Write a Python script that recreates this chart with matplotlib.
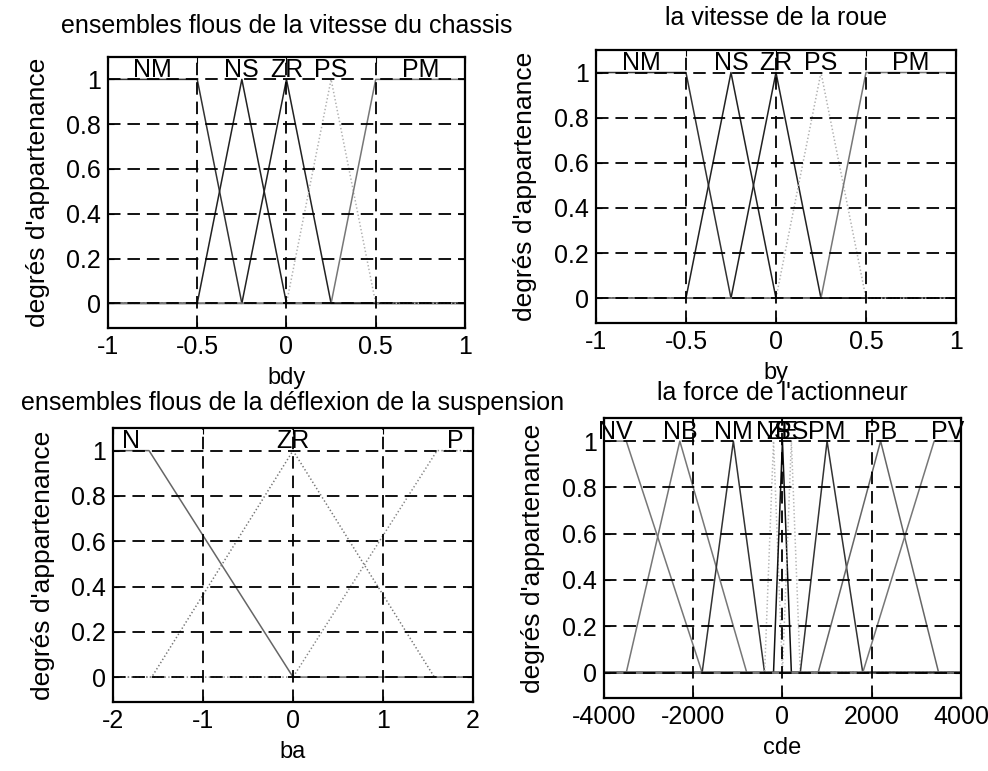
import numpy as np
import matplotlib
matplotlib.use("Agg")
import matplotlib.pyplot as plt

plt.rcParams['font.family'] = ['Liberation Sans', 'DejaVu Sans']
plt.rcParams['lines.scale_dashes'] = False

# fonctions d'appartenance : triangles [a, b, c] et trapezes [a, b, c, d]
bdy_names = ['NM', 'NS', 'ZR', 'PS', 'PM']
bdy_params = [[-1, -1, -0.5, -0.25], [-0.5, -0.25, 0], [-0.25, 0, 0.25],
              [0, 0.25, 0.5], [0.25, 0.5, 1, 1]]
bdy_range = [-1, 1]
bdy_ticks = [-1, -0.5, 0, 0.5, 1]
bdy_ticklabels = ['-1', '-0.5', '0', '0.5', '1']

by_names = ['NM', 'NS', 'ZR', 'PS', 'PM']
by_params = [[-1, -1, -0.5, -0.25], [-0.5, -0.25, 0], [-0.25, 0, 0.25],
             [0, 0.25, 0.5], [0.25, 0.5, 1, 1]]
by_range = [-1, 1]
by_ticks = [-1, -0.5, 0, 0.5, 1]
by_ticklabels = ['-1', '-0.5', '0', '0.5', '1']

ba_names = ['N', 'ZR', 'P']
ba_params = [[-2, -2, -1.6, 0], [-1.57, 0, 1.57], [0, 1.6, 2, 2]]
ba_range = [-2, 2]
ba_ticks = [-2, -1, 0, 1, 2]
ba_ticklabels = ['-2', '-1', '0', '1', '2']

cde_names = ['NV', 'NB', 'NM', 'NS', 'ZE', 'PS', 'PM', 'PB', 'PV']
cde_params = [[-4000, -4000, -3500, -1800], [-3500, -2300, -800],
              [-1800, -1100, -400], [-400, -200, 0], [-200, 0, 200],
              [0, 200, 400], [400, 1000, 1800], [800, 2200, 3500],
              [1800, 3400, 4000, 4000]]
cde_range = [-4000, 4000]
cde_ticks = [-4000, -2000, 0, 2000, 4000]
cde_ticklabels = ['-4000', '-2000', '0', '2000', '4000']

deg_ticks = [0, 0.2, 0.4, 0.6, 0.8, 1]
deg_ticklabels = ['0', '0.2', '0.4', '0.6', '0.8', '1']


def corners(p, lo, hi):
    # sommets de la ligne brisee d'une fonction trimf / trapmf
    if len(p) == 3:
        p = [p[0], p[1], p[1], p[2]]
    a, b, c, d = p
    xs = [lo, a, b, c, d, hi]
    ys = [0, 0, 1, 1, 0, 0]
    if a == b == lo:
        xs, ys = xs[2:], ys[2:]
    if c == d == hi:
        xs, ys = xs[:-2], ys[:-2]
    return xs, ys


def plot_mf(ax, names, params, rng, ticks, ticklabels, colors, styles,
            title, xlabel, tpad):
    for name, p, col, ls in zip(names, params, colors, styles):
        xs, ys = corners(p, rng[0], rng[1])
        ax.plot(xs, ys, color=col, lw=1.1, ls=ls)
        if len(p) == 3:
            xc = p[1]
        else:
            xc = (p[1] + p[2]) / 2
        ax.text(xc, 1.01, name, ha='center', va='baseline', fontsize=18)
    ax.set_xlim(rng)
    ax.set_ylim(-0.11, 1.1)
    ax.set_xticks(ticks)
    ax.set_xticklabels(ticklabels)
    ax.set_yticks(deg_ticks)
    ax.set_yticklabels(deg_ticklabels)
    ax.tick_params(labelsize=18, direction='in', length=4, top=True,
                   right=True, pad=5)
    ax.grid(True, color='black', lw=1.3, ls=(0, (9, 5)))
    ax.set_axisbelow(False)
    for s in ax.spines.values():
        s.set_linewidth(1.6)
    ax.set_title(title, fontsize=18, pad=tpad)
    ax.set_xlabel(xlabel, fontsize=17, labelpad=6)
    ax.set_ylabel("degrés d'appartenance", fontsize=19, labelpad=12)


fig = plt.figure(figsize=(9.88, 7.71), dpi=100)
ax1 = fig.add_axes([0.1093, 0.5746, 0.3613, 0.3515])
ax2 = fig.add_axes([0.6032, 0.5811, 0.3644, 0.3541])
ax3 = fig.add_axes([0.1144, 0.0895, 0.3644, 0.3554])
ax4 = fig.add_axes([0.6113, 0.0947, 0.3613, 0.3632])

cols5 = ['#333333', '#222222', '#222222', '#b0b0b0', '#777777']
sty5 = ['-', '-', '-', ':', '-']
plot_mf(ax1, bdy_names, bdy_params, bdy_range, bdy_ticks, bdy_ticklabels,
        cols5, sty5, 'ensembles flous de la vitesse du chassis', 'bdy', 17)
plot_mf(ax2, by_names, by_params, by_range, by_ticks, by_ticklabels,
        cols5, sty5, 'la vitesse de la roue', 'by', 18)
plot_mf(ax3, ba_names, ba_params, ba_range, ba_ticks, ba_ticklabels,
        ['#666666', '#777777', '#888888'], ['-', ':', ':'],
        'ensembles flous de la déflexion de la suspension', 'ba', 13)
plot_mf(ax4, cde_names, cde_params, cde_range, cde_ticks, cde_ticklabels,
        ['#777777', '#777777', '#333333', '#b5b5b5', '#111111', '#b5b5b5',
         '#333333', '#666666', '#777777'],
        ['-', '-', '-', ':', '-', ':', '-', '-', '-'],
        "la force de l'actionneur", 'cde', 13)

fig.savefig('out.png', dpi=100)
